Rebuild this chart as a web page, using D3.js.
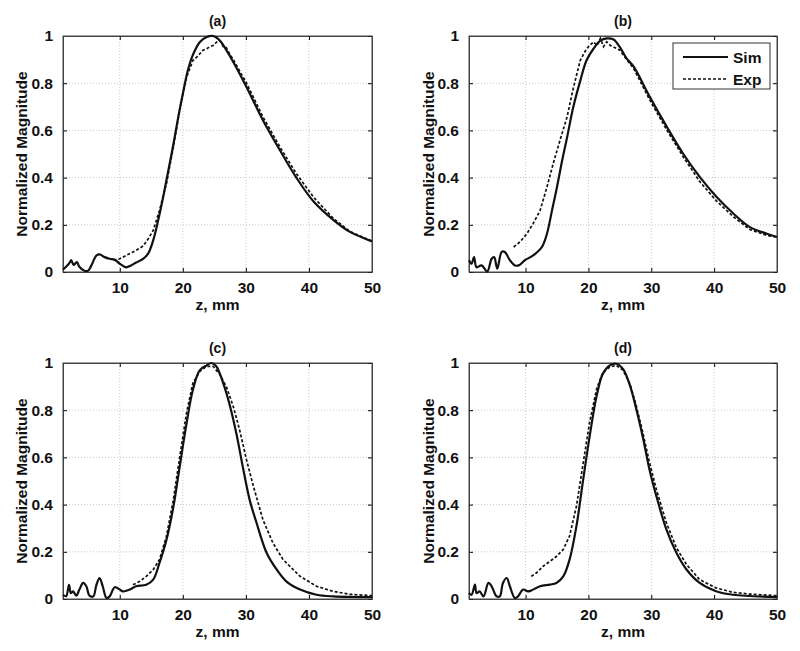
<!DOCTYPE html>
<html>
<head>
<meta charset="utf-8">
<script src="https://cdn.jsdelivr.net/npm/d3@7"></script>
<style>
  body { margin: 0; background: #fff; }
  svg text { font-family: "Liberation Sans", Arial, sans-serif; font-weight: bold; fill: #111; }
</style>
</head>
<body>
<div id="chart"></div>
<script>
// axis ticks
const xTicks = [10, 20, 30, 40, 50];
const yTicks = [0, 0.2, 0.4, 0.6, 0.8, 1];
const yTickLabels = ["0", "0.2", "0.4", "0.6", "0.8", "1"];
const panelTitles = ["(a)", "(b)", "(c)", "(d)"];

// [z (mm), normalized magnitude]
const simA = [[1,0.01],[1.6,0.025],[2.06,0.04],[2.3,0.05],[2.7,0.03],[3.2,0.042],[3.6,0.022],[4.4,0.005],[5,0.006],[5.5,0.028],[6.3,0.07],[6.8,0.075],[7.6,0.063],[8.4,0.056],[9.2,0.052],[10,0.035],[11,0.02],[11.8,0.028],[12.6,0.04],[13.7,0.056],[14.5,0.078],[15.3,0.134],[16.1,0.22],[16.9,0.32],[17.7,0.43],[18.5,0.54],[19.3,0.66],[20,0.755],[20.8,0.855],[21.6,0.92],[22.7,0.975],[23.8,0.996],[24.8,1.0],[25.9,0.98],[26.9,0.94],[28,0.89],[30.1,0.784],[32.7,0.643],[35.4,0.516],[38,0.40],[40.7,0.30],[43.9,0.22],[46.5,0.17],[50,0.13]];
const expA = [[9,0.05],[10,0.056],[11,0.07],[12.1,0.085],[13,0.098],[13.7,0.11],[14.5,0.14],[15.3,0.176],[16.3,0.26],[17.4,0.374],[18.5,0.53],[19.5,0.685],[20.6,0.826],[21.6,0.897],[22.2,0.91],[22.7,0.925],[23.2,0.94],[23.8,0.946],[24.3,0.955],[24.8,0.96],[25.4,0.975],[25.9,0.98],[26.4,0.955],[26.9,0.95],[27.5,0.92],[28,0.90],[30.1,0.80],[32.7,0.657],[35.4,0.53],[38,0.417],[40.7,0.318],[43.9,0.226],[46.5,0.172],[50,0.13]];
const simB = [[1,0.05],[1.4,0.035],[1.8,0.063],[2.2,0.02],[3,0.028],[3.9,0.002],[4.6,0.056],[5,0.063],[5.5,0.014],[6.2,0.085],[6.7,0.085],[7.5,0.05],[8.3,0.028],[8.9,0.028],[9.9,0.05],[11.2,0.07],[12.6,0.106],[13.4,0.162],[14.2,0.26],[15,0.36],[15.8,0.47],[16.6,0.57],[17.6,0.70],[18.7,0.81],[19.7,0.897],[20.8,0.946],[21.9,0.98],[22.9,0.99],[24,0.985],[25,0.953],[26.1,0.904],[27.2,0.87],[29.8,0.74],[32.5,0.614],[35.1,0.50],[37.8,0.40],[40.4,0.318],[43.1,0.247],[45.7,0.19],[48.4,0.162],[50,0.148]];
const expB = [[8.1,0.106],[9.1,0.127],[10.2,0.162],[11.2,0.205],[12.3,0.26],[13.4,0.36],[14.4,0.46],[15.5,0.56],[16.6,0.657],[17.6,0.78],[18.7,0.897],[19.7,0.946],[20.8,0.975],[21.4,0.96],[21.9,0.99],[22.4,0.955],[22.9,0.975],[23.5,0.96],[24,0.953],[25,0.94],[26.1,0.90],[27.2,0.862],[29.8,0.727],[32.5,0.60],[35.1,0.487],[37.8,0.38],[40.4,0.30],[43.1,0.233],[45.7,0.18],[48.4,0.155],[50,0.148]];
const simC = [[1,0.018],[1.5,0.012],[1.95,0.06],[2.25,0.025],[2.6,0.032],[3.1,0.014],[3.6,0.04],[4.2,0.068],[4.7,0.054],[5.2,0.014],[5.8,0.011],[6.3,0.06],[6.8,0.089],[7.3,0.054],[7.9,0.004],[8.4,0.011],[9.2,0.05],[10,0.04],[10.5,0.032],[11.6,0.04],[12.6,0.054],[14.2,0.06],[15.3,0.082],[16.3,0.153],[17.4,0.25],[18.5,0.39],[19.5,0.56],[20.6,0.745],[21.6,0.887],[22.7,0.97],[23.8,0.99],[24.5,1.0],[25.3,0.986],[26.4,0.915],[27.5,0.816],[28.5,0.70],[29.6,0.548],[30.6,0.42],[31.7,0.322],[33.3,0.195],[34.9,0.124],[36.4,0.075],[38.6,0.04],[41.2,0.018],[43.9,0.011],[50,0.008]];
const expC = [[12.1,0.06],[13.2,0.075],[14.2,0.096],[15.3,0.124],[16.3,0.167],[17.4,0.265],[18.5,0.42],[19.5,0.60],[20.6,0.79],[21.6,0.915],[22.7,0.965],[23.8,0.986],[24.8,0.986],[25.9,0.95],[26.9,0.90],[28,0.816],[29,0.717],[30.1,0.59],[31.2,0.477],[32.7,0.336],[34.3,0.237],[35.9,0.167],[38.6,0.096],[41.2,0.054],[43.9,0.032],[46.5,0.02],[50,0.014]];
const simD = [[1,0.025],[1.4,0.018],[1.95,0.061],[2.2,0.025],[2.7,0.032],[3.3,0.011],[4.1,0.068],[4.6,0.054],[5.4,0.011],[5.9,0.011],[6.4,0.068],[7,0.089],[7.5,0.054],[8.3,0.004],[8.8,0.011],[9.6,0.04],[10.4,0.032],[10.9,0.036],[12.3,0.054],[13.9,0.061],[14.9,0.068],[16,0.096],[17,0.167],[18.1,0.31],[19.1,0.494],[20.2,0.69],[21.3,0.86],[22.3,0.955],[23.4,0.99],[24.4,0.997],[25.5,0.975],[26.6,0.905],[27.6,0.806],[28.7,0.68],[29.7,0.55],[30.8,0.437],[32.4,0.295],[34,0.196],[35.6,0.125],[37.7,0.068],[40.3,0.033],[43,0.018],[50,0.008]];
const expD = [[10.9,0.096],[11.7,0.11],[12.8,0.139],[13.9,0.16],[14.9,0.18],[16,0.21],[17,0.267],[18.1,0.394],[19.1,0.565],[20.2,0.75],[21.3,0.89],[22.3,0.96],[23.4,0.983],[24.4,0.99],[25.5,0.97],[26.6,0.912],[27.6,0.82],[28.7,0.70],[29.7,0.58],[30.8,0.465],[32.4,0.323],[34,0.217],[35.6,0.146],[37.7,0.082],[40.3,0.047],[43,0.028],[45.6,0.021],[50,0.014]];

const panels = [
    { sim: simA, exp: expA, left: 63, right: 372, top: 36, bottom: 272 },
    { sim: simB, exp: expB, left: 469, right: 777, top: 36, bottom: 272, legend: true },
    { sim: simC, exp: expC, left: 63, right: 372, top: 363, bottom: 599 },
    { sim: simD, exp: expD, left: 469, right: 777, top: 363, bottom: 599 }
];

const svg = d3.select("#chart").append("svg")
    .attr("width", 800)
    .attr("height", 651);

panels.forEach((p, i) => {
    const w = p.right - p.left;
    const h = p.bottom - p.top;

    const x = d3.scaleLinear().domain([1, 50]).range([0, w]);
    const y = d3.scaleLinear().domain([0, 1]).range([h, 0]);

    const g = svg.append("g")
        .attr("transform", "translate(" + p.left + "," + p.top + ")");

    // dotted grid
    g.append("g").selectAll("line")
        .data(xTicks.slice(0, -1))
        .join("line")
        .attr("x1", d => x(d)).attr("x2", d => x(d))
        .attr("y1", 0).attr("y2", h)
        .attr("stroke", "#c8c8c8")
        .attr("stroke-dasharray", "1,2");

    g.append("g").selectAll("line")
        .data(yTicks.slice(1, -1))
        .join("line")
        .attr("y1", d => y(d)).attr("y2", d => y(d))
        .attr("x1", 0).attr("x2", w)
        .attr("stroke", "#c8c8c8")
        .attr("stroke-dasharray", "1,2");

    // axes with inward ticks
    const xAxis = g.append("g")
        .attr("transform", "translate(0," + h + ")")
        .call(d3.axisBottom(x).tickValues(xTicks).tickSizeInner(-4).tickSizeOuter(0).tickPadding(10));
    const yAxis = g.append("g")
        .call(d3.axisLeft(y).tickValues(yTicks).tickFormat((d, k) => yTickLabels[k])
            .tickSizeInner(-4).tickSizeOuter(0).tickPadding(10));
    g.append("g")
        .call(d3.axisTop(x).tickValues(xTicks).tickSizeInner(-4).tickSizeOuter(0).tickFormat(""));
    g.append("g")
        .attr("transform", "translate(" + w + ",0)")
        .call(d3.axisRight(y).tickValues(yTicks).tickSizeInner(-4).tickSizeOuter(0).tickFormat(""));

    [xAxis, yAxis].forEach(a => a.selectAll("text")
        .style("font-size", "15.5px")
        .style("font-family", "'Liberation Sans', Arial, sans-serif")
        .style("font-weight", "bold")
        .attr("fill", "#111"));
    svg.selectAll(".domain").attr("stroke", "#444");

    // box
    g.append("rect")
        .attr("width", w).attr("height", h)
        .attr("fill", "none")
        .attr("stroke", "#444")
        .attr("stroke-width", 1);

    const line = d3.line()
        .x(d => x(d[0]))
        .y(d => y(d[1]));

    g.append("path")
        .datum(p.exp)
        .attr("fill", "none")
        .attr("stroke", "#111")
        .attr("stroke-width", 1.7)
        .attr("stroke-dasharray", "3,2")
        .attr("d", line.curve(d3.curveLinear));

    g.append("path")
        .datum(p.sim)
        .attr("fill", "none")
        .attr("stroke", "#111")
        .attr("stroke-width", 2.2)
        .attr("d", line.curve(d3.curveCatmullRom));

    // titles
    g.append("text")
        .attr("x", w / 2).attr("y", -10)
        .attr("text-anchor", "middle")
        .style("font-size", "14px")
        .text(panelTitles[i]);

    g.append("text")
        .attr("x", w / 2).attr("y", h + 38)
        .attr("text-anchor", "middle")
        .style("font-size", "15.5px")
        .text("z, mm");

    g.append("text")
        .attr("transform", "translate(" + (i % 2 === 0 ? -36 : -35) + "," + (h / 2) + ") rotate(-90)")
        .attr("text-anchor", "middle")
        .style("font-size", "15.5px")
        .text("Normalized Magnitude");

    if (p.legend) {
        const lg = g.append("g").attr("transform", "translate(" + (w - 104) + ",7)");
        lg.append("rect")
            .attr("width", 97).attr("height", 46)
            .attr("fill", "#fff").attr("stroke", "#333");
        lg.append("line")
            .attr("x1", 10).attr("x2", 55).attr("y1", 14).attr("y2", 14)
            .attr("stroke", "#111").attr("stroke-width", 2.2);
        lg.append("line")
            .attr("x1", 10).attr("x2", 55).attr("y1", 36).attr("y2", 36)
            .attr("stroke", "#111").attr("stroke-width", 1.7).attr("stroke-dasharray", "3,2");
        lg.append("text").attr("x", 60).attr("y", 20).style("font-size", "15.5px").text("Sim");
        lg.append("text").attr("x", 60).attr("y", 42).style("font-size", "15.5px").text("Exp");
    }
});
</script>
</body>
</html>
